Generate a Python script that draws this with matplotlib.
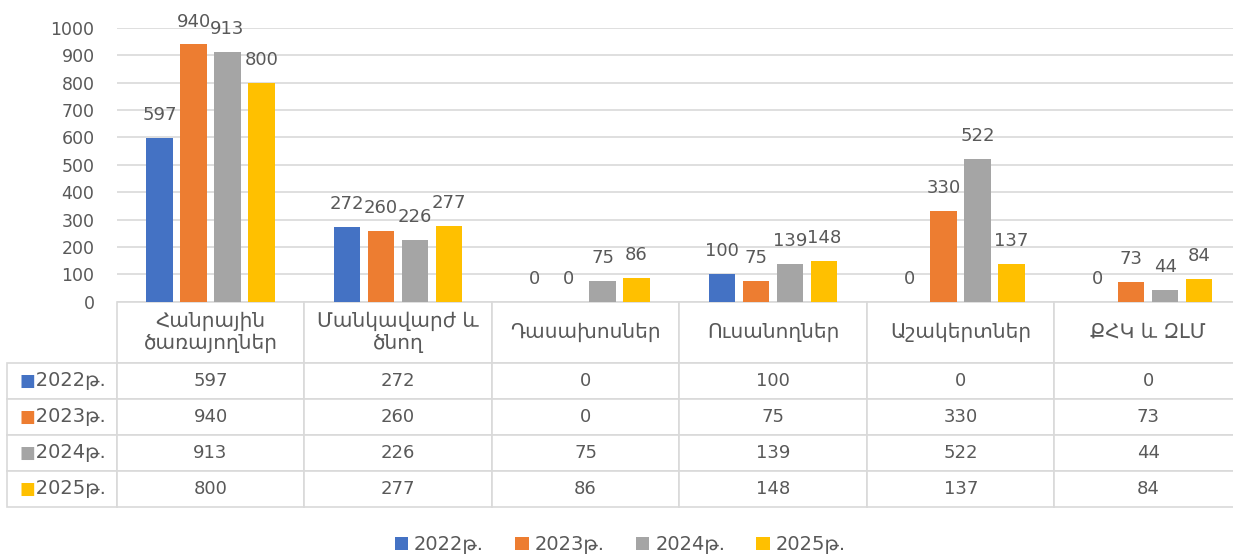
import numpy as np
import matplotlib
matplotlib.use("Agg")
import matplotlib.pyplot as plt

plt.rcParams['font.family'] = ['DejaVu Sans']

# Տվյալներ
categories = ["Հանրային\nծառայողներ", "Մանկավարժ և\nծնող", "Դասախոսներ",
              "Ուսանողներ", "Աշակերտներ", "ՔՀԿ և ԶԼՄ"]
years = ["2022թ.", "2023թ.", "2024թ.", "2025թ."]
v2022 = [597, 272, 0, 100, 0, 0]
v2023 = [940, 260, 0, 75, 330, 73]
v2024 = [913, 226, 75, 139, 522, 44]
v2025 = [800, 277, 86, 148, 137, 84]
series = [v2022, v2023, v2024, v2025]
colors = ['#4472C4', '#ED7D31', '#A5A5A5', '#FFC000']

txt_color = '#595959'
line_color = '#D9D9D9'

fig = plt.figure(figsize=(12.33, 5.56), dpi=100)
ax = fig.add_axes([0.0947, 0.4574, 0.9126, 0.4923])

x = np.arange(len(categories))
step = 0.181
width = 0.141
bars = []
for i, (vals, c) in enumerate(zip(series, colors)):
    b = ax.bar(x + (i - 1.5) * step, vals, width, color=c, label=years[i], zorder=2)
    ax.bar_label(b, padding=10, fontsize=13, color=txt_color)
    bars.append(b)

ax.set_xlim(-0.5, len(categories) - 0.5)
ax.set_ylim(0, 1000)
ax.set_yticks(range(0, 1001, 100))
ax.yaxis.grid(True, color=line_color, lw=1.2)
ax.set_axisbelow(True)
for s in ax.spines.values():
    s.set_visible(False)
ax.set_xticks([])
ax.tick_params(axis='y', length=0, pad=16, labelsize=12.5, labelcolor=txt_color)

# Таблица данных под графиком: первая колонка - подписи годов
cell_text = [["   " + y] + [str(v) for v in vals] for y, vals in zip(years, series)]
col_w, lab_w = 187.6, 110
lab_frac = lab_w / (col_w * len(categories))
tbl = ax.table(cellText=cell_text, colLabels=[""] + categories, cellLoc='center',
               colLoc='center', bbox=[-lab_frac, -0.750, 1.0 + lab_frac, 0.750])
tbl.auto_set_font_size(False)
tbl.set_fontsize(13)
header_h, row_h = 61, 36
for (r, c), cell in tbl.get_celld().items():
    cell.set_edgecolor(line_color)
    cell.set_linewidth(1.2)
    cell.get_text().set_color(txt_color)
    cell.set_height(header_h if r == 0 else row_h)
    cell.set_width(lab_w if c == 0 else col_w)
    if r == 0:
        cell.get_text().set_fontsize(14.5)
    if c == 0:
        cell.get_text().set_fontsize(14)
tbl[(0, 0)].visible_edges = ''

# цветные квадратики перед подписями строк
for i, c in enumerate(colors):
    t = tbl[(i + 1, 0)].get_text()
    ax.annotate("■", xy=(0.2, 0.5), xycoords=t, ha='right', va='center',
                color=c, fontsize=12, zorder=5, annotation_clip=False)

fig.legend(handles=bars, labels=years, loc='center', bbox_to_anchor=(0.503, 0.02),
           ncol=4, frameon=False, handlelength=0.7, handleheight=0.7,
           handletextpad=0.3, columnspacing=1.6, fontsize=14, labelcolor=txt_color)

fig.savefig("out.png", dpi=100)
